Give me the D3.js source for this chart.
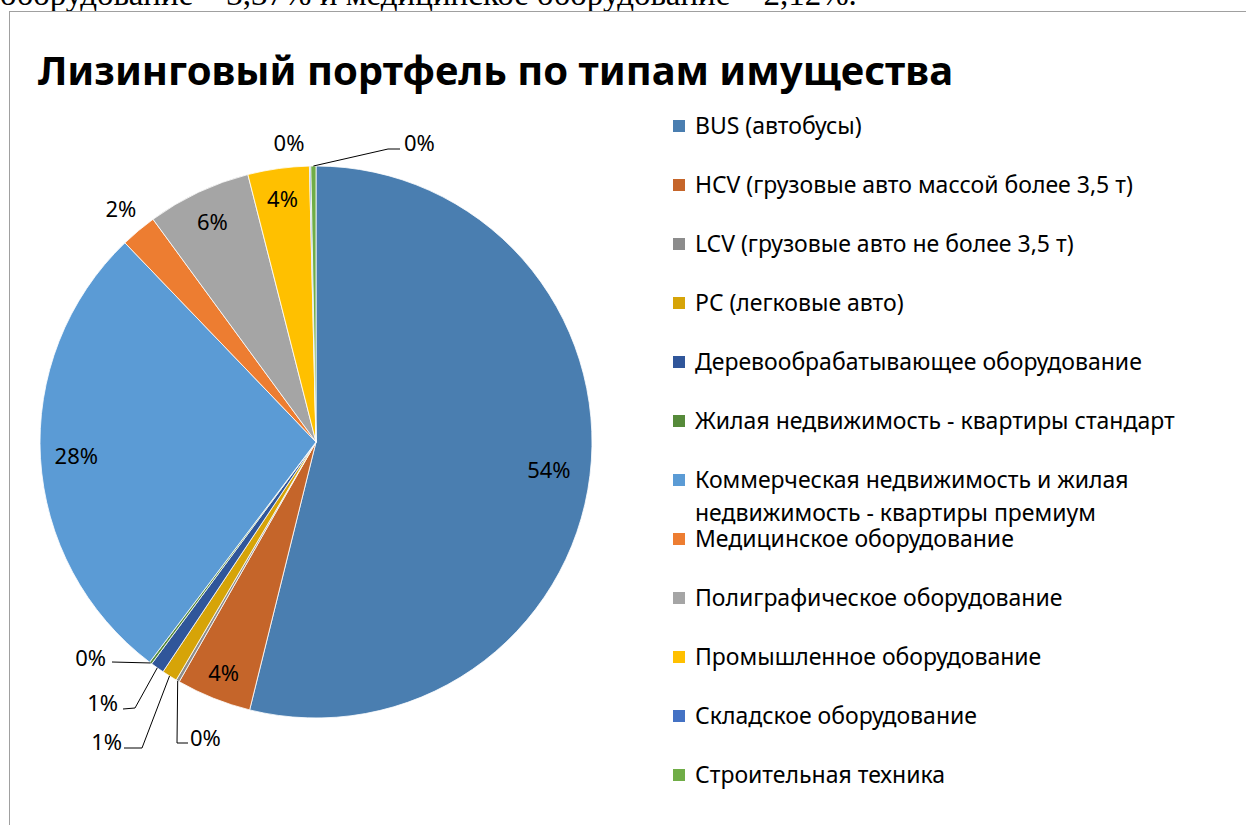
<!DOCTYPE html>
<html><head><meta charset="utf-8">
<script src="https://cdn.jsdelivr.net/npm/d3@7"></script>
<style>
html,body{margin:0;padding:0;background:#fff;overflow:hidden;}
svg{display:block;}
</style></head>
<body>
<svg id="chart" width="1246" height="825"></svg>
<script>
// ---- data ----
const categories = [
  "BUS (автобусы)",
  "HCV (грузовые авто массой более 3,5 т)",
  "LCV (грузовые авто не более 3,5 т)",
  "PC (легковые авто)",
  "Деревообрабатывающее оборудование",
  "Жилая недвижимость - квартиры стандарт",
  "Коммерческая недвижимость и жилая недвижимость - квартиры премиум",
  "Медицинское оборудование",
  "Полиграфическое оборудование",
  "Промышленное оборудование",
  "Складское оборудование",
  "Строительная техника"
];
const values = [54.0, 4.4, 0.2, 0.9, 0.8, 0.15, 27.6, 2.12, 6.1, 3.6, 0.08, 0.3];
const legendLines = [
  ["BUS (автобусы)"],
  ["HCV (грузовые авто массой более 3,5 т)"],
  ["LCV (грузовые авто не более 3,5 т)"],
  ["PC (легковые авто)"],
  ["Деревообрабатывающее оборудование"],
  ["Жилая недвижимость - квартиры стандарт"],
  ["Коммерческая недвижимость и жилая", "недвижимость - квартиры премиум"],
  ["Медицинское оборудование"],
  ["Полиграфическое оборудование"],
  ["Промышленное оборудование"],
  ["Складское оборудование"],
  ["Строительная техника"]
];
const colors = ["#4a7eb0","#c5652a","#8c8c8c","#d6a408","#30569a","#568a3a",
                "#5b9bd5","#ed7d31","#a5a5a5","#ffc000","#4472c4","#70ad47"];
const titleText = "Лизинговый портфель по типам имущества";
const docText = "оборудование – 3,37% и медицинское оборудование – 2,12%.";

// ---- layout (not data) ----
const FONT = "'Noto Sans', 'Open Sans', sans-serif";
const cx = 316, cy = 442, R = 276;
const labelLayout = [
  {type:"in", rf:0.85},
  {type:"in", rf:0.90},
  {type:"out", tx:-126, ty:304, anchor:"start", leader:[[-139,301],[-128,301]]},
  {type:"out", tx:-194, ty:308, anchor:"end", leader:[[-174,306],[-192,306]]},
  {type:"out", tx:-198, ty:269, anchor:"end", leader:[[-181,266],[-193,267]]},
  {type:"out", tx:-210, ty:224, anchor:"end", leader:[[-204,220]]},
  {type:"in", rf:0.87},
  {type:"in", rf:1.10},
  {type:"in", rf:0.88},
  {type:"in", rf:0.89},
  {type:"out", tx:-27, ty:-291, anchor:"middle", leader:null},
  {type:"out", tx:88, ty:-291, anchor:"start", leader:[[72,-293],[84,-293]]}
];

const svg = d3.select("#chart");

// document text above the chart (cut off by the page edge, as in the reference)
svg.append("text").attr("x", 0).attr("y", 5)
  .attr("font-family", "'Liberation Serif', 'Times New Roman', serif")
  .attr("font-size", 33).attr("fill", "#000").text(docText);

// chart border
svg.append("rect").attr("x", 9.5).attr("y", 11.5).attr("width", 1300).attr("height", 900)
  .attr("fill", "#fff").attr("stroke", "#a0a0a0").attr("stroke-width", 1);

// title
svg.append("text").attr("x", 38).attr("y", 85)
  .attr("font-family", FONT).attr("font-weight", "bold").attr("font-size", 40)
  .attr("fill", "#000").text(titleText);

// pie
const pie = d3.pie().sort(null).value(d => d.v);
const data = categories.map((c, i) => ({c, v: values[i], i}));
const arcs = pie(data);
const total = d3.sum(values);
const arc = d3.arc().innerRadius(0).outerRadius(R);
const g = svg.append("g").attr("transform", `translate(${cx},${cy})`);
g.selectAll("path.slice").data(arcs).join("path").attr("class", "slice")
  .attr("d", arc).attr("fill", d => colors[d.data.i])
  .attr("stroke", "#fff").attr("stroke-width", 0.8);

const fmt = v => Math.round(v / total * 100) + "%";

arcs.forEach((a, i) => {
  const L = labelLayout[i];
  const mid = (a.startAngle + a.endAngle) / 2;
  if (L.type === "in") {
    const r = R * L.rf;
    g.append("text").attr("x", r * Math.sin(mid)).attr("y", -r * Math.cos(mid))
      .attr("text-anchor", "middle").attr("dy", "0.36em")
      .attr("font-family", FONT).attr("font-size", 22).attr("fill", "#000")
      .text(fmt(a.data.v));
  } else {
    if (L.leader) {
      const rim = [R * Math.sin(mid), -R * Math.cos(mid)];
      const pts = [rim].concat(L.leader);
      g.append("path").attr("d", d3.line()(pts)).attr("fill", "none")
        .attr("stroke", "#000").attr("stroke-width", 1);
    }
    g.append("text").attr("x", L.tx).attr("y", L.ty).attr("text-anchor", L.anchor)
      .attr("font-family", FONT).attr("font-size", 22).attr("fill", "#000")
      .text(fmt(a.data.v));
  }
});

// legend
const legendX = 673, legendY0 = 126, rowH = 59, lineH = 33;
let y = legendY0;
const lg = svg.append("g");
legendLines.forEach((lines, i) => {
  lg.append("rect").attr("x", legendX).attr("y", y - 6).attr("width", 12).attr("height", 12)
    .attr("fill", colors[i]);
  lines.forEach((t, k) => {
    lg.append("text").attr("x", legendX + 22).attr("y", y + k * lineH).attr("dy", "0.35em")
      .attr("font-family", FONT).attr("font-size", 23).attr("fill", "#000").text(t);
  });
  y += (lines.length > 1 ? 59 : rowH);
});
</script>
</body></html>
